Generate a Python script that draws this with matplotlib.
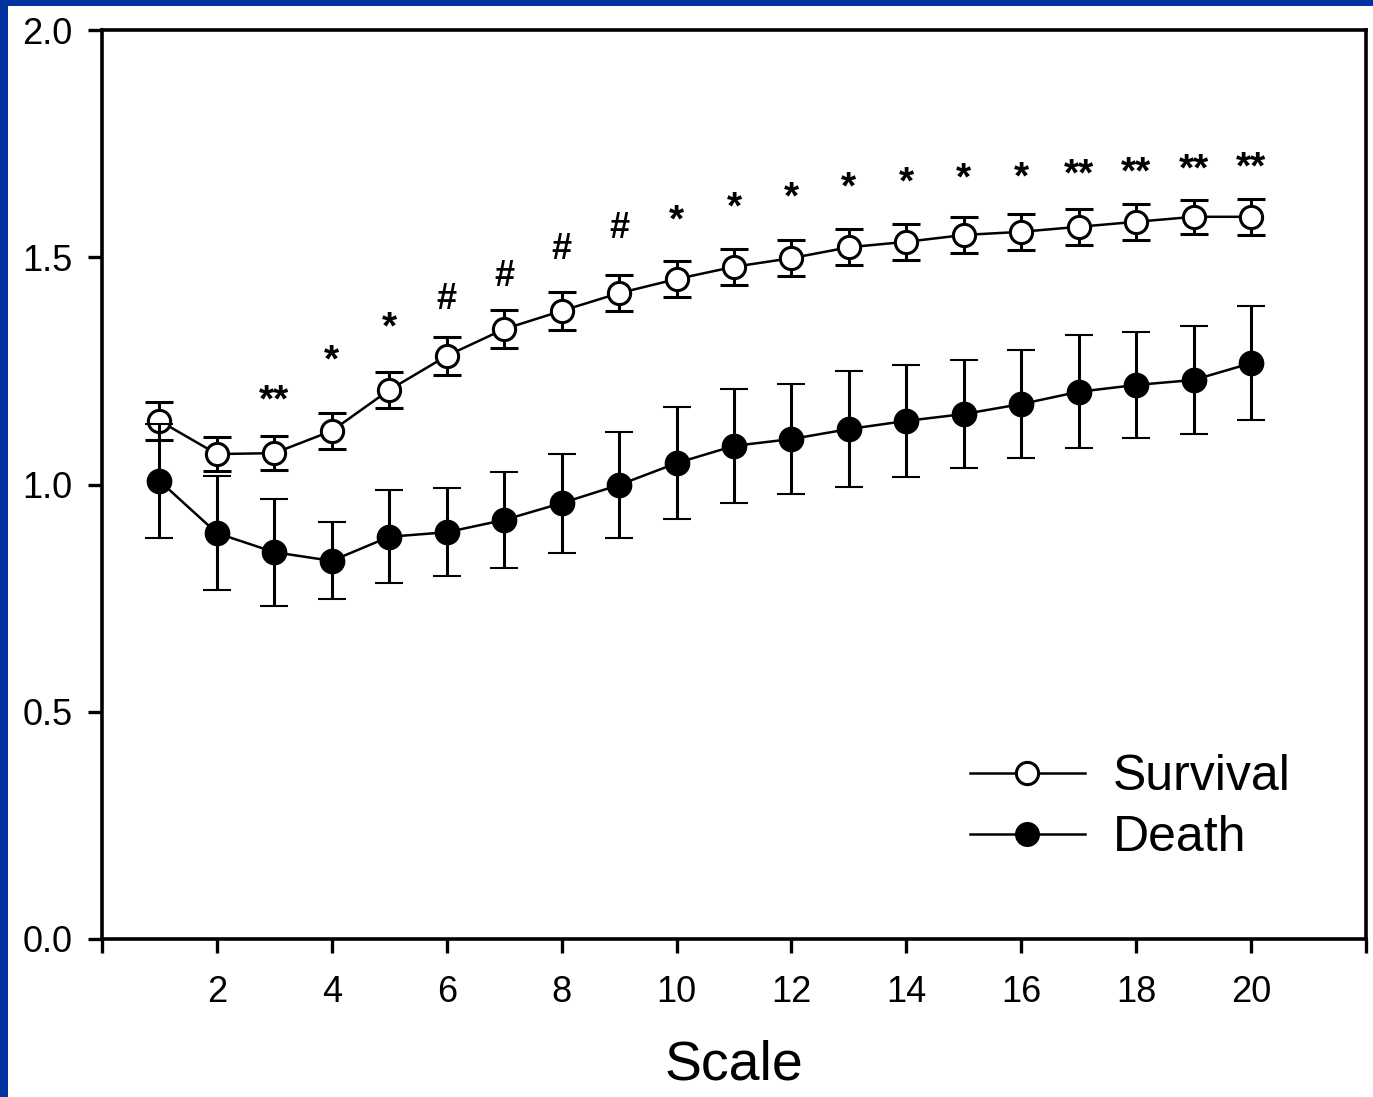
import numpy as np
import matplotlib.pyplot as plt
from matplotlib.patches import Rectangle
from matplotlib.lines import Line2D

plt.rcParams['font.family'] = ['Liberation Sans', 'DejaVu Sans']

scale = np.arange(1, 21)

survival = [1.140, 1.067, 1.069, 1.118, 1.208, 1.283, 1.342, 1.382, 1.421, 1.452,
            1.479, 1.498, 1.522, 1.534, 1.549, 1.556, 1.567, 1.578, 1.589, 1.589]
survival_err = [0.042, 0.037, 0.038, 0.040, 0.040, 0.042, 0.042, 0.042, 0.040, 0.040,
                0.040, 0.040, 0.040, 0.040, 0.040, 0.040, 0.039, 0.039, 0.038, 0.039]

death = [1.008, 0.893, 0.851, 0.832, 0.885, 0.895, 0.922, 0.959, 0.999, 1.047,
         1.085, 1.100, 1.122, 1.140, 1.155, 1.177, 1.204, 1.219, 1.230, 1.267]
death_err = [0.125, 0.126, 0.118, 0.085, 0.102, 0.097, 0.105, 0.109, 0.117, 0.123,
             0.125, 0.122, 0.127, 0.124, 0.118, 0.119, 0.124, 0.116, 0.119, 0.125]

# significance marks and the height they sit at
signif = ['', '', '**', '*', '*', '#', '#', '#', '#', '*',
          '*', '*', '*', '*', '*', '*', '**', '**', '**', '**']
signif_y = [0, 0, 1.197, 1.285, 1.358, 1.406, 1.457, 1.516, 1.564, 1.593,
            1.622, 1.644, 1.666, 1.677, 1.686, 1.688, 1.696, 1.699, 1.707, 1.710]

fig = plt.figure(figsize=(13.73, 10.97), dpi=100)
fig.patch.set_facecolor('#0033a0')
# white slide area, leaving a thin blue frame at top and left
fig.patches.append(Rectangle((8 / 1373, 0), 1, 1 - 6 / 1097, transform=fig.transFigure,
                             facecolor='white', edgecolor='none', zorder=-1))

ax = fig.add_axes([102 / 1373, 1 - 939 / 1097, 1264 / 1373, 909 / 1097])
ax.set_facecolor('white')

ebar = dict(ecolor='black', elinewidth=2.2, capsize=10, capthick=2.4)
ax.errorbar(scale, survival, yerr=survival_err, color='black', lw=1.8, marker='o',
            ms=16, mfc='white', mec='black', mew=2.2, zorder=3, **ebar)
ax.errorbar(scale, death, yerr=death_err, color='black', lw=1.8, marker='o',
            ms=17, mfc='black', mec='black', mew=1.5, zorder=4, **ebar)

for x, y, s in zip(scale, signif_y, signif):
    if s:
        fs = 26 if s == '#' else 28
        off = 0 if s == '#' else -5
        ax.annotate(s, (x, y), xytext=(0, off), textcoords='offset points',
                    ha='center', va='center', fontsize=fs, fontweight='bold')

ax.set_xlim(0, 22)
ax.set_ylim(0, 2.0)
ax.set_xticks(np.arange(0, 23, 2))
ax.set_xticklabels([''] + [str(v) for v in range(2, 21, 2)] + [''])
ax.set_yticks(np.arange(0, 2.01, 0.5))
ax.set_yticklabels(['0.0', '0.5', '1.0', '1.5', '2.0'])
ax.tick_params(direction='out', length=10, width=2.4, labelsize=26)
ax.tick_params(axis='x', pad=16)
ax.tick_params(axis='y', pad=11)
for sp in ax.spines.values():
    sp.set_linewidth(2.6)
ax.set_xlabel('Scale', fontsize=40, labelpad=21)

handles = [
    Line2D([], [], color='black', lw=1.8, marker='o', ms=16, mfc='white', mec='black', mew=2.2),
    Line2D([], [], color='black', lw=1.8, marker='o', ms=17, mfc='black', mec='black'),
]
ax.legend(handles, ['Survival', 'Death'], loc='upper left', bbox_to_anchor=(0.6867, 0.203),
          frameon=False, fontsize=36, handlelength=2.3, handletextpad=0.55,
          labelspacing=0.3, borderpad=0, borderaxespad=0)

fig.savefig('out.png', dpi=100, facecolor=fig.get_facecolor())
